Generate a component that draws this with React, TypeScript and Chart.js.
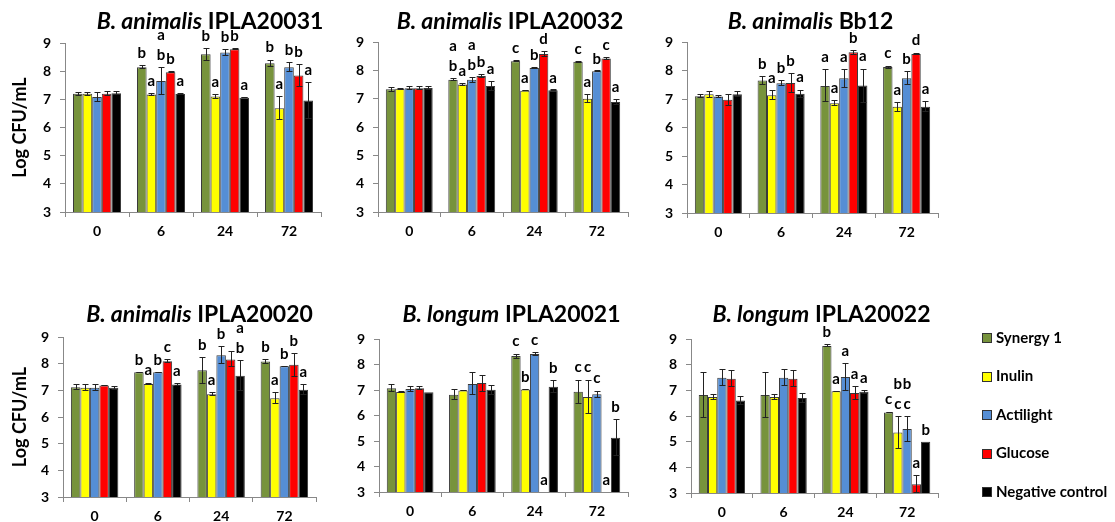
import React, { useEffect, useRef } from "react";
import { Chart, registerables } from "chart.js";

Chart.register(...registerables);

const FONT = "Lato, 'Open Sans', 'DejaVu Sans', sans-serif";

// ---------- shared categories / series ----------
const timeLabels = ["0", "6", "24", "72"];
const seriesNames = ["Synergy 1", "Inulin", "Actilight", "Glucose", "Negative control"];
const seriesColors = ["#77933C", "#FFFF00", "#558ED5", "#FF0000", "#000000"];
const yTickMin = 3;
const yTickMax = 9;
const yAxisTitle = "Log CFU/mL";

// ---------- B. animalis IPLA20031 ----------
const a20031Values = [
  [7.2, 8.14, 8.6, 8.28],
  [7.2, 7.17, 7.1, 6.68],
  [7.08, 7.65, 8.66, 8.14],
  [7.2, 7.96, 8.78, 7.85],
  [7.22, 7.19, 7.06, 6.96],
];
const a20031Errors = [
  [0.07, 0.07, 0.23, 0.13],
  [0.07, 0.04, 0.08, 0.43],
  [0.17, 0.5, 0.12, 0.17],
  [0.08, 0.03, 0.04, 0.4],
  [0.06, 0.02, 0.02, 0.65],
];
const a20031Letters = [
  ["", "b", "b", "b"],
  ["", "a", "a", "a"],
  ["", "a\nb", "b", "b"],
  ["", "b", "b", "b"],
  ["", "a", "a", "a"],
];

// ---------- B. animalis IPLA20032 ----------
const a20032Values = [
  [7.33, 7.67, 8.32, 8.3],
  [7.35, 7.5, 7.28, 7.0],
  [7.37, 7.67, 8.08, 7.97],
  [7.37, 7.8, 8.58, 8.42],
  [7.38, 7.45, 7.3, 6.88],
];
const a20032Errors = [
  [0.08, 0.06, 0.04, 0.03],
  [0.03, 0.06, 0.01, 0.15],
  [0.08, 0.1, 0.03, 0.01],
  [0.08, 0.06, 0.1, 0.05],
  [0.07, 0.18, 0.01, 0.1],
];
const a20032Letters = [
  ["", "a\nb", "c", "c"],
  ["", "a", "a", "a"],
  ["", "a\nb", "b", "b"],
  ["", "b", "d", "c"],
  ["", "a", "a", "a"],
];

// ---------- B. animalis Bb12 ----------
const bb12Values = [
  [7.1, 7.65, 7.46, 8.12],
  [7.17, 7.13, 6.85, 6.73],
  [7.09, 7.55, 7.73, 7.73],
  [6.97, 7.56, 8.64, 8.58],
  [7.17, 7.18, 7.47, 6.73],
];
const bb12Errors = [
  [0.08, 0.15, 0.58, 0.05],
  [0.12, 0.18, 0.1, 0.17],
  [0.06, 0.1, 0.33, 0.25],
  [0.2, 0.35, 0.08, 0.05],
  [0.1, 0.15, 0.6, 0.2],
];
const bb12Letters = [
  ["", "b", "a", "c"],
  ["", "a", "a", "a"],
  ["", "b", "a", "b"],
  ["", "b", "b", "d"],
  ["", "a", "a", "a"],
];

// ---------- B. animalis IPLA20020 ----------
const a20020Values = [
  [7.12, 7.68, 7.75, 8.08],
  [7.1, 7.24, 6.85, 6.7],
  [7.1, 7.68, 8.32, 7.9],
  [7.18, 8.09, 8.16, 7.96],
  [7.1, 7.22, 7.55, 7.02],
];
const a20020Errors = [
  [0.1, 0.02, 0.5, 0.1],
  [0.14, 0.05, 0.08, 0.22],
  [0.12, 0.02, 0.33, 0.02],
  [0.01, 0.07, 0.3, 0.45],
  [0.07, 0.05, 0.58, 0.2],
];
const a20020Letters = [
  ["", "b", "b", "b"],
  ["", "a", "a", "a"],
  ["", "b", "b", "b"],
  ["", "c", "", "b"],
  ["", "a", "a\nb", "a"],
];

// ---------- B. longum IPLA20021 ----------
const l20021Values = [
  [7.07, 6.81, 8.33, 6.93],
  [6.92, 6.98, 7.02, 6.73],
  [7.04, 7.24, 8.41, 6.83],
  [7.07, 7.27, 3.0, 3.0],
  [6.91, 7.01, 7.13, 5.13],
];
const l20021Errors = [
  [0.15, 0.22, 0.1, 0.48],
  [0.05, 0.02, 0.02, 0.68],
  [0.12, 0.45, 0.07, 0.15],
  [0.08, 0.33, 0, 0],
  [0, 0.2, 0.25, 0.73],
];
const l20021Letters = [
  ["", "", "c", "c"],
  ["", "", "b", "c"],
  ["", "", "c", "c"],
  ["", "", "a", "a"],
  ["", "", "b", "b"],
];

// ---------- B. longum IPLA20022 ----------
const l20022Values = [
  [6.82, 6.82, 8.73, 6.14],
  [6.74, 6.74, 6.96, 5.36],
  [7.49, 7.49, 7.52, 5.49],
  [7.45, 7.45, 6.9, 3.34],
  [6.6, 6.7, 6.94, 5.0],
];
const l20022Errors = [
  [0.9, 0.9, 0.06, 0.03],
  [0.1, 0.1, 0.01, 0.65],
  [0.33, 0.33, 0.55, 0.52],
  [0.33, 0.33, 0.28, 0.35],
  [0.18, 0.18, 0.08, 0],
];
const l20022Letters = [
  ["", "", "b", "c"],
  ["", "", "a", "b\nc"],
  ["", "", "a", "b\nc"],
  ["", "", "a", "a"],
  ["", "", "a", "b"],
];

type Box = {
  left: number; top: number; width: number; height: number;
  axisX: number; plotRight: number; plotTop: number; plotBottom: number;
  titleBaseline: number; titleShift: number;
};

type PanelSpec = {
  species: string;
  strain: string;
  values: number[][];
  errors: number[][];
  letters: string[][];
  showYTitle: boolean;
  showLegend: boolean;
  box: Box;
};

const panels: PanelSpec[] = [
  {
    species: "B. animalis", strain: " IPLA20031",
    values: a20031Values, errors: a20031Errors, letters: a20031Letters,
    showYTitle: true, showLegend: false,
    box: { left: 0, top: 0, width: 330, height: 255, axisX: 65, plotRight: 321, plotTop: 43, plotBottom: 212, titleBaseline: 29, titleShift: 17 },
  },
  {
    species: "B. animalis", strain: " IPLA20032",
    values: a20032Values, errors: a20032Errors, letters: a20032Letters,
    showYTitle: false, showLegend: false,
    box: { left: 330, top: 0, width: 310, height: 255, axisX: 378, plotRight: 628, plotTop: 42, plotBottom: 212, titleBaseline: 29, titleShift: 7 },
  },
  {
    species: "B. animalis", strain: " Bb12",
    values: bb12Values, errors: bb12Errors, letters: bb12Letters,
    showYTitle: false, showLegend: false,
    box: { left: 640, top: 0, width: 310, height: 255, axisX: 687, plotRight: 938, plotTop: 42, plotBottom: 213, titleBaseline: 29, titleShift: -2 },
  },
  {
    species: "B. animalis", strain: " IPLA20020",
    values: a20020Values, errors: a20020Errors, letters: a20020Letters,
    showYTitle: true, showLegend: false,
    box: { left: 0, top: 260, width: 330, height: 262, axisX: 63, plotRight: 316, plotTop: 337, plotBottom: 497, titleBaseline: 322, titleShift: 10 },
  },
  {
    species: "B. longum", strain: " IPLA20021",
    values: l20021Values, errors: l20021Errors, letters: l20021Letters,
    showYTitle: false, showLegend: false,
    box: { left: 330, top: 260, width: 310, height: 262, axisX: 379, plotRight: 628, plotTop: 339, plotBottom: 492, titleBaseline: 322, titleShift: 8 },
  },
  {
    species: "B. longum", strain: " IPLA20022",
    values: l20022Values, errors: l20022Errors, letters: l20022Letters,
    showYTitle: false, showLegend: true,
    box: { left: 640, top: 260, width: 475, height: 262, axisX: 691, plotRight: 938, plotTop: 339, plotBottom: 493, titleBaseline: 322, titleShift: 7 },
  },
];

const legendLayout = { boxX: 982, textX: 996, firstY: 338, stepY: 38.5, box: 10 };

function makeAnnotationPlugin(spec: PanelSpec) {
  return {
    id: "annotations",
    afterDatasetsDraw(chart: any) {
      const ctx: CanvasRenderingContext2D = chart.ctx;
      const ys = chart.scales.y;
      ctx.save();
      chart.data.datasets.forEach((_ds: any, i: number) => {
        const meta = chart.getDatasetMeta(i);
        meta.data.forEach((bar: any, j: number) => {
          const v = spec.values[i][j];
          const e = spec.errors[i][j];
          const x = Math.round(bar.x) + 0.5;
          const top = ys.getPixelForValue(v + e);
          if (e > 0) {
            const bot = ys.getPixelForValue(Math.max(v - e, yTickMin));
            ctx.strokeStyle = "#222";
            ctx.lineWidth = 1;
            ctx.beginPath();
            ctx.moveTo(x, Math.round(top));
            ctx.lineTo(x, Math.round(bot));
            ctx.moveTo(x - 3, Math.round(top) + 0.5);
            ctx.lineTo(x + 3, Math.round(top) + 0.5);
            ctx.moveTo(x - 3, Math.round(bot) - 0.5);
            ctx.lineTo(x + 3, Math.round(bot) - 0.5);
            ctx.stroke();
          }
          const label = spec.letters[i][j];
          if (label) {
            const lines = label.split("\n");
            ctx.fillStyle = "#000";
            ctx.font = `bold 15px ${FONT}`;
            ctx.textAlign = "center";
            ctx.textBaseline = "middle";
            for (let k = 0; k < lines.length; k++) {
              const fromBottom = lines.length - 1 - k;
              ctx.fillText(lines[k], bar.x, top - 12 - fromBottom * 20);
            }
          }
        });
      });
      ctx.restore();
    },
    afterDraw(chart: any) {
      const ctx: CanvasRenderingContext2D = chart.ctx;
      const area = chart.chartArea;
      ctx.save();
      const italicFont = `italic bold 23px ${FONT}`;
      const plainFont = `bold 23px ${FONT}`;
      ctx.font = italicFont;
      const w1 = ctx.measureText(spec.species).width;
      ctx.font = plainFont;
      const w2 = ctx.measureText(spec.strain).width;
      const cx = (area.left + area.right) / 2 + spec.box.titleShift;
      const baseY = spec.box.titleBaseline - spec.box.top;
      const x = cx - (w1 + w2) / 2;
      ctx.fillStyle = "#000";
      ctx.textAlign = "left";
      ctx.textBaseline = "alphabetic";
      ctx.font = italicFont;
      ctx.fillText(spec.species, x, baseY);
      ctx.font = plainFont;
      ctx.fillText(spec.strain, x + w1, baseY);

      if (spec.showLegend) {
        ctx.font = `bold 15px ${FONT}`;
        ctx.textBaseline = "middle";
        chart.data.datasets.forEach((ds: any, i: number) => {
          const cy = legendLayout.firstY + i * legendLayout.stepY - spec.box.top;
          const bx = legendLayout.boxX - spec.box.left;
          ctx.fillStyle = ds.backgroundColor;
          ctx.fillRect(bx + 0.5, Math.round(cy - legendLayout.box / 2) + 0.5, legendLayout.box - 1, legendLayout.box - 1);
          ctx.strokeStyle = "#333";
          ctx.lineWidth = 1;
          ctx.strokeRect(bx + 0.5, Math.round(cy - legendLayout.box / 2) + 0.5, legendLayout.box - 1, legendLayout.box - 1);
          ctx.fillStyle = "#000";
          ctx.fillText(ds.label, legendLayout.textX - spec.box.left, cy);
        });
      }
      ctx.restore();
    },
  };
}

function Panel({ spec }: { spec: PanelSpec }) {
  const ref = useRef<HTMLCanvasElement>(null);
  useEffect(() => {
    const b = spec.box;
    const yWidth = b.axisX - b.left;
    const xHeight = b.top + b.height - b.plotBottom;
    const chart = new Chart(ref.current as HTMLCanvasElement, {
      type: "bar",
      data: {
        labels: timeLabels,
        datasets: seriesNames.map((name, i) => ({
          label: name,
          data: spec.values[i],
          backgroundColor: seriesColors[i],
          borderColor: "#3a3a3a",
          borderWidth: 1,
          categoryPercentage: 0.75,
          barPercentage: 1.0,
        })),
      },
      options: {
        animation: false,
        responsive: false,
        devicePixelRatio: 1,
        layout: {
          padding: { left: 0, top: b.plotTop - b.top, right: b.left + b.width - b.plotRight, bottom: 0 },
        },
        plugins: {
          legend: { display: false },
          title: { display: false },
          tooltip: { enabled: false },
        },
        scales: {
          x: {
            grid: { display: true, drawOnChartArea: false, drawTicks: true, tickLength: 5, color: "#888", offset: true },
            border: { display: true, color: "#888" },
            ticks: { color: "#000", font: { family: FONT, size: 14, weight: "bold" }, padding: 6 },
            afterFit: (s: any) => { s.height = xHeight; },
          },
          y: {
            min: yTickMin,
            max: yTickMax,
            ticks: { stepSize: 1, color: "#000", font: { family: FONT, size: 14, weight: "bold" }, padding: 9 },
            grid: { display: true, drawOnChartArea: false, drawTicks: true, tickLength: 5, color: "#888" },
            border: { display: true, color: "#888" },
            title: {
              display: spec.showYTitle,
              text: yAxisTitle,
              color: "#000",
              font: { family: FONT, size: 18, weight: "bold" },
              padding: { top: 9, bottom: 0 },
            },
            afterFit: (s: any) => { s.width = yWidth; },
          },
        },
      } as any,
      plugins: [makeAnnotationPlugin(spec)],
    });
    return () => chart.destroy();
  }, [spec]);
  const b = spec.box;
  return (
    <canvas
      ref={ref}
      width={b.width}
      height={b.height}
      style={{ position: "absolute", left: b.left, top: b.top, width: b.width, height: b.height }}
    />
  );
}

export default function App() {
  return (
    <div style={{ position: "absolute", left: 0, top: 0, width: 1115, height: 522, background: "#fff", overflow: "hidden" }}>
      {panels.map((p, i) => (
        <Panel key={i} spec={p} />
      ))}
    </div>
  );
}
